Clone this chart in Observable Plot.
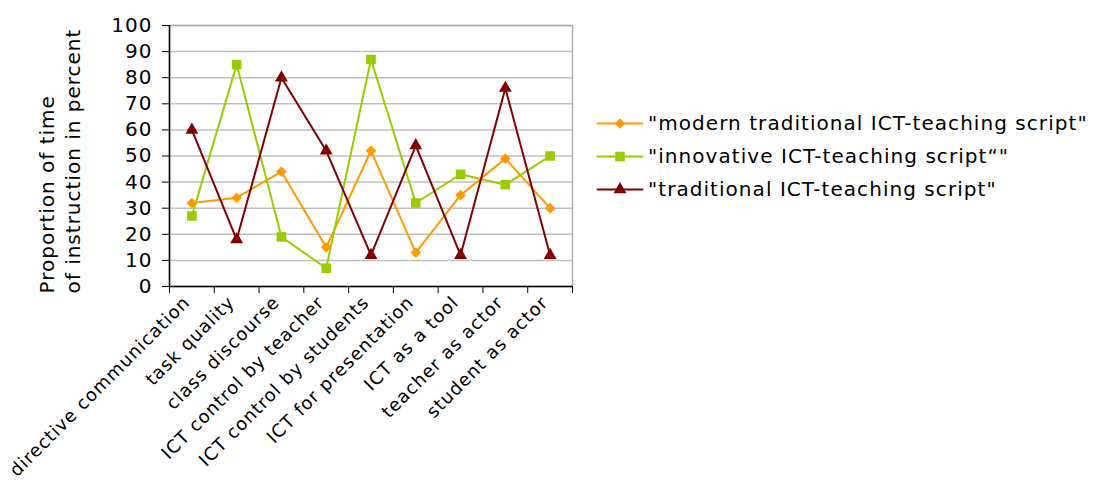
<!DOCTYPE html>
<html>
<head>
<meta charset="utf-8">
<script src="https://cdn.jsdelivr.net/npm/d3@7"></script>
<script src="https://cdn.jsdelivr.net/npm/@observablehq/plot@0.6"></script>
<style>
  html, body { margin: 0; padding: 0; background: #fff; }
  #wrap { position: relative; width: 1096px; height: 480px; font-family: "DejaVu Sans", Verdana, sans-serif; }
  #legend { position: absolute; left: 597px; top: 0; }
  .row { position: absolute; left: 0; display: flex; align-items: center; white-space: nowrap; font-size: 20px; letter-spacing: 1.05px; color: #000; height: 30px; }
  .row span { margin-left: 6px; }
</style>
</head>
<body>
<div id="wrap"></div>
<script>
const categories = ["directive communication", "task quality", "class discourse", "ICT control by teacher", "ICT control by students", "ICT for presentation", "ICT as a tool", "teacher as actor", "student as actor"];
const seriesNames = ["\"modern traditional ICT-teaching script\"", "\"innovative ICT-teaching script\u201c\"", "\"traditional ICT-teaching script\""];
const modernValues = [32, 34, 44, 15, 52, 13, 35, 49, 30];
const innovativeValues = [27, 85, 19, 7, 87, 32, 43, 39, 50];
const traditionalValues = [60, 18, 80, 52, 12, 54, 12, 76, 12];
const yTicks = [0, 10, 20, 30, 40, 50, 60, 70, 80, 90, 100];
const colors = ["#FF9900", "#99CC00", "#800000"];
const symbols = ["diamond2", "square", "triangle"];
const sizes = [4.8, 5.4, 4.8];
const yLabel = "Proportion of time\nof instruction in percent";

const seriesValues = [modernValues, innovativeValues, traditionalValues];
const rows = [];
seriesValues.forEach((vals, s) => vals.forEach((v, i) => rows.push({s, i, v})));
const centers = categories.map((_, i) => i);
const bounds = d3.range(categories.length + 1).map(i => i - 0.5);

const marks = [
  Plot.ruleY(yTicks.filter(t => t > 0), {stroke: "#c0c0c0", strokeWidth: 1.5}),
  Plot.frame({stroke: "#b0b0b0", strokeWidth: 1.5}),
  Plot.axisY({ticks: yTicks, tickSize: 7, tickPadding: 10, fontSize: 20, label: null, stroke: "#000"}),
  Plot.axisX({ticks: bounds, tickSize: 7, tickFormat: () => "", label: null}),
  Plot.axisX({ticks: centers, tickSize: 0, tickPadding: 10, tickRotate: -45, fontSize: 18, dx: -5, dy: 3, tickFormat: i => categories[i], label: null}),
  Plot.ruleX([-0.5], {stroke: "#000", strokeWidth: 1.5}),
  Plot.ruleY([0], {stroke: "#000", strokeWidth: 1.5}),
  Plot.text([yLabel], {frameAnchor: "bottom-left", rotate: -90, lineAnchor: "middle", dx: -111, dy: 7, fontSize: 20, lineHeight: 1.3, textAnchor: "start", fill: "#000"})
];
seriesValues.forEach((vals, s) => {
  const d = rows.filter(r => r.s === s);
  marks.push(Plot.line(d, {x: "i", y: "v", stroke: colors[s], strokeWidth: 2}));
});
seriesValues.forEach((vals, s) => {
  const d = rows.filter(r => r.s === s);
  marks.push(Plot.dot(d, {x: "i", y: "v", fill: colors[s], stroke: "none", symbol: symbols[s], r: sizes[s]}));
});

const chart = Plot.plot({
  width: 1096,
  height: 480,
  marginLeft: 169,
  marginRight: 524,
  marginTop: 25,
  marginBottom: 194,
  style: {fontFamily: "DejaVu Sans, Verdana, sans-serif", color: "#000", background: "#fff", overflow: "visible", letterSpacing: "1px"},
  x: {type: "linear", domain: [-0.5, categories.length - 0.5]},
  y: {domain: [0, 100]},
  marks
});
const wrap = document.getElementById("wrap");
wrap.appendChild(chart);

// legend
const legend = document.createElement("div");
legend.id = "legend";
const rowY = [123, 156, 189];
seriesNames.forEach((name, s) => {
  const row = document.createElement("div");
  row.className = "row";
  row.style.top = (rowY[s] - 15) + "px";
  const sw = Plot.plot({
    width: 45, height: 30, margin: 0,
    x: {domain: [0, 2], axis: null}, y: {domain: [0, 1], axis: null},
    style: {background: "transparent", overflow: "visible"},
    marks: [
      Plot.line([{x: 0, y: 0.5}, {x: 2, y: 0.5}], {x: "x", y: "y", stroke: colors[s], strokeWidth: 2}),
      Plot.dot([{x: 1, y: 0.5}], {x: "x", y: "y", fill: colors[s], symbol: symbols[s], r: sizes[s]})
    ]
  });
  row.appendChild(sw);
  const t = document.createElement("span");
  t.textContent = name;
  row.appendChild(t);
  legend.appendChild(row);
});
wrap.appendChild(legend);
</script>
</body>
</html>
